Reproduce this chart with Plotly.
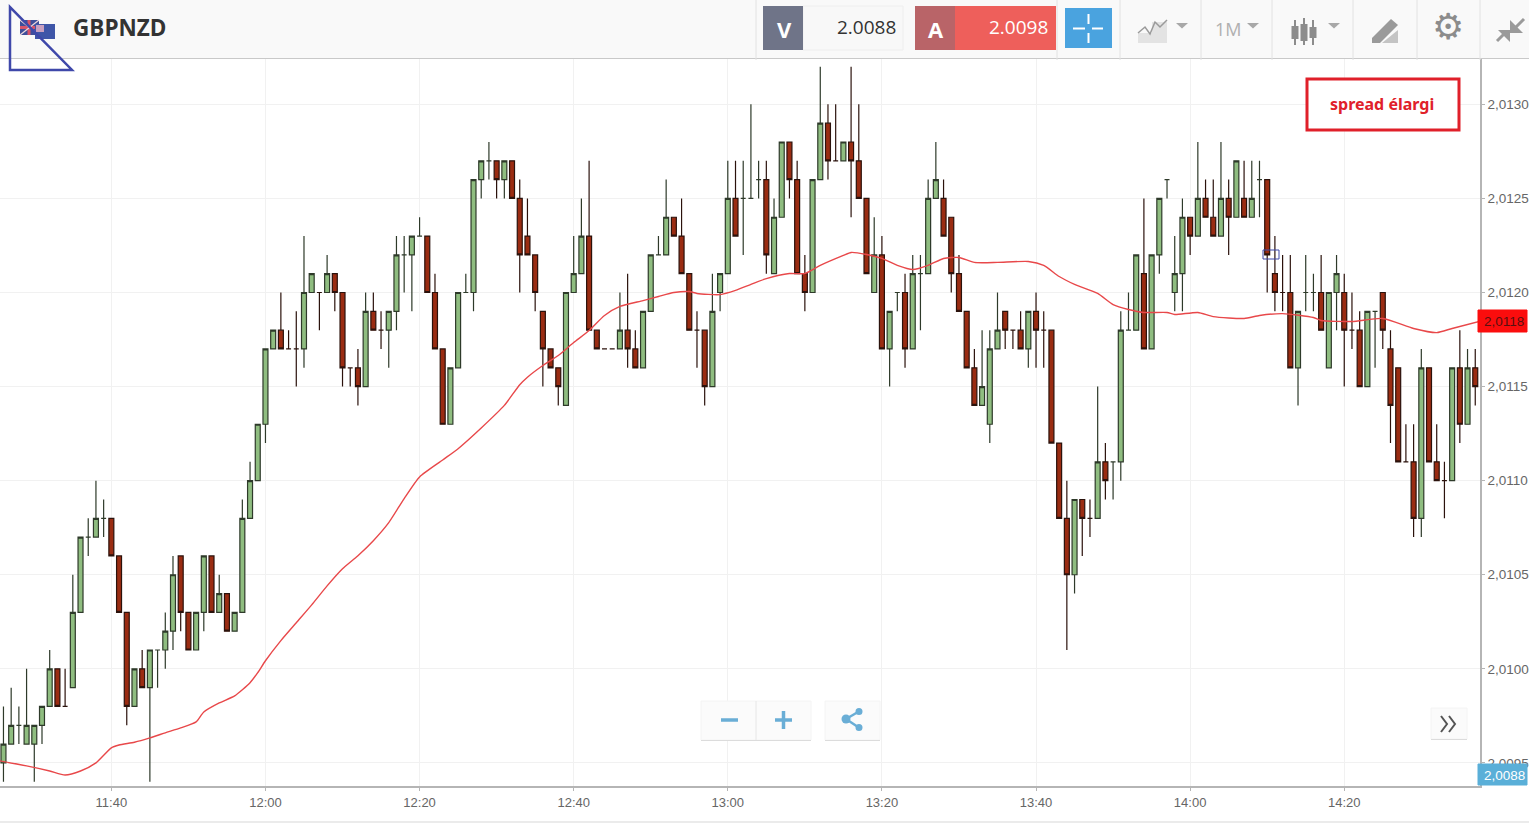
import pandas as pd
import plotly.graph_objects as go

# Prices are written as pips above 2.0000 (e.g. 118 = 2,0118)
open_pips = [95,96,97,96,96,97,98,100,98,99,103,107,107,108,108,106,103,98,100,99,101,101,102,106,103,101,103,106,103,104,102,103,108,110,113,117,118,117,117,117,120,120,120,121,120,116,116,115,119,118,118,119,122,122,123,123,120,117,113,116,120,120,126,127,127,126,127,125,123,122,119,117,116,114,120,121,123,118,117,117,117,118,117,116,119,122,122,124,123,121,118,118,115,120,121,125,125,125,126,126,121,124,128,126,121,120,126,129,127,127,128,127,125,120,122,117,120,120,117,121,121,125,125,124,121,119,116,114,113,117,119,118,118,117,119,118,118,112,108,105,109,108,108,111,111,111,118,118,121,117,122,126,120,121,124,123,125,124,123,125,124,125,124,126,126,121,120,120,116,120,120,120,116,120,120,118,118,115,119,120,117,116,111,111,108,116,111,110,110,116,113,116]
high_pips = [98,99,98,100,97,98,101,100,100,105,107,108,110,109,108,106,103,100,101,101,101,103,106,106,103,103,106,106,105,104,103,109,111,113,117,118,120,118,119,123,121,120,122,121,120,116,117,120,120,119,119,123,123,123,124,123,121,117,116,120,121,126,127,128,127,127,127,126,125,122,119,117,116,120,123,125,127,118,117,117,120,121,118,119,122,123,126,124,125,121,119,118,121,121,127,127,127,130,127,127,125,128,128,127,122,126,132,130,130,128,132,130,125,124,123,119,120,121,122,122,126,128,126,124,122,119,117,118,118,120,119,118,119,119,120,119,118,112,110,109,109,109,115,112,111,119,120,122,125,122,125,126,123,125,124,128,126,126,128,126,127,127,127,127,126,123,122,122,119,122,121,122,120,122,121,120,119,119,119,120,118,116,113,113,117,116,113,111,116,118,117,117]
low_pips = [94,96,96,96,94,96,98,98,98,99,103,106,107,107,106,103,97,98,99,94,99,100,101,102,101,101,102,103,103,102,102,103,108,110,112,117,117,117,115,116,120,118,120,119,115,115,114,115,118,117,116,118,120,119,123,120,117,113,113,116,120,119,125,126,125,125,125,120,122,119,115,116,114,114,120,121,118,117,117,117,117,116,116,116,119,122,122,123,121,118,116,114,115,119,121,123,122,125,125,121,121,124,125,121,119,120,126,126,127,127,124,125,121,120,117,115,119,116,117,118,121,125,123,120,119,116,114,114,112,117,117,117,117,116,116,116,112,108,101,104,106,107,108,109,109,110,118,118,117,117,121,125,119,119,122,123,124,123,123,122,124,124,124,124,120,119,119,116,114,119,119,118,116,118,115,117,115,115,116,117,112,111,111,107,107,111,110,108,110,112,113,114]
close_pips = [96,97,97,97,97,98,100,98,98,103,107,107,108,108,106,103,98,100,99,101,101,102,105,103,101,103,106,103,104,102,103,108,110,113,117,118,117,117,117,120,121,120,121,120,116,116,115,119,118,118,119,122,122,123,123,120,117,113,116,120,120,126,127,127,126,127,125,122,122,120,117,116,115,120,121,123,118,117,117,117,118,117,116,119,122,122,124,123,121,118,118,115,119,121,125,123,125,125,126,122,124,128,126,121,120,126,129,127,127,128,127,125,121,122,117,119,120,117,121,121,125,126,123,121,119,116,114,115,117,118,118,118,117,119,118,118,112,108,105,109,108,108,111,110,111,118,118,122,117,122,125,126,121,124,123,125,124,123,125,124,127,124,125,126,122,120,120,116,119,120,120,118,120,121,118,118,115,119,119,118,114,111,111,108,116,111,110,110,116,113,116,115]

ma_times = ["11:25","11:29","11:32","11:34","11:36","11:38","11:40","11:41","11:43","11:45","11:47","11:49","11:51","11:52","11:54","11:56","11:58","11:59","12:00","12:02","12:04","12:06","12:08","12:10","12:12","12:14","12:16","12:18","12:20","12:23","12:25","12:28","12:31","12:33","12:34","12:36","12:38","12:40","12:42","12:44","12:46","12:49","12:51","12:53","12:55","12:56","12:59","13:01","13:03","13:05","13:08","13:10","13:12","13:15","13:16","13:18","13:20","13:22","13:24","13:26","13:28","13:30","13:32","13:35","13:39","13:41","13:43","13:45","13:48","13:50","13:52","13:54","13:57","13:58","14:01","14:03","14:07","14:09","14:12","14:16","14:17","14:21","14:25","14:29","14:32","14:34","14:38"]
ma_pips = [95.15,94.84,94.57,94.36,94.57,95.0,95.8,95.95,96.1,96.33,96.6,96.86,97.18,97.71,98.19,98.56,99.26,99.8,100.43,101.5,102.45,103.4,104.41,105.32,106.01,106.81,107.77,109.05,110.2,111.1,111.7,112.8,114.0,115.1,115.5,116.12,116.65,117.34,117.98,118.78,119.26,119.57,119.79,120.0,120.05,119.95,119.89,120.11,120.43,120.74,121.01,121.01,121.44,121.97,122.13,122.02,121.81,121.44,121.22,121.44,121.81,121.86,121.6,121.6,121.65,121.44,120.85,120.43,119.95,119.36,119.1,118.94,118.94,118.83,118.94,118.72,118.62,118.78,118.88,118.67,118.51,118.46,118.62,118.09,117.87,118.09,118.51]

DAY = "2019-01-07 "
times = pd.date_range(DAY + "11:26", periods=len(open_pips), freq="min")
px = lambda arr: [2 + v / 10000 for v in arr]

W, H = 1529, 823
X = lambda p: p / W
Y = lambda p: 1 - p / H

fig = go.Figure()
fig.add_trace(go.Candlestick(
    x=times, open=px(open_pips), high=px(high_pips), low=px(low_pips), close=px(close_pips),
    whiskerwidth=0,
    increasing=dict(fillcolor="#8fbd80", line=dict(color="#2e3a2a", width=1.2)),
    decreasing=dict(fillcolor="#9a2c12", line=dict(color="#2b120c", width=1.2)),
    hoverinfo="skip", showlegend=False,
))
fig.add_trace(go.Scatter(
    x=[DAY + t for t in ma_times], y=px(ma_pips), mode="lines",
    line=dict(color="#e8484a", width=1.4, shape="spline", smoothing=0.6),
    hoverinfo="skip", showlegend=False,
))

shapes, notes = [], []

def rect(x0, y0, x1, y1, fill, line=None, lw=0, layer="above"):
    shapes.append(dict(type="rect", xref="paper", yref="paper", x0=X(x0), x1=X(x1), y0=Y(y0), y1=Y(y1),
                       fillcolor=fill, line=dict(color=line or fill, width=lw), layer=layer))

def poly(points, fill=None, line=None, lw=0, close=True):
    d = "M " + " L ".join(f"{X(a):.5f},{Y(b):.5f}" for a, b in points) + (" Z" if close else "")
    shapes.append(dict(type="path", xref="paper", yref="paper", path=d, fillcolor=fill or "rgba(0,0,0,0)",
                       line=dict(color=line or "rgba(0,0,0,0)", width=lw), layer="above"))

def seg(x0, y0, x1, y1, color, lw=1):
    shapes.append(dict(type="line", xref="paper", yref="paper", x0=X(x0), x1=X(x1), y0=Y(y0), y1=Y(y1),
                       line=dict(color=color, width=lw), layer="above"))

def circ(cx, cy, r, fill):
    shapes.append(dict(type="circle", xref="paper", yref="paper", x0=X(cx - r), x1=X(cx + r), y0=Y(cy + r), y1=Y(cy - r),
                       fillcolor=fill, line=dict(width=0), layer="above"))

def text(x, y, s, size, color, anchor="center", bold=False, font="Open Sans"):
    notes.append(dict(xref="paper", yref="paper", x=X(x), y=Y(y), text=f"<b>{s}</b>" if bold else s, showarrow=False,
                      xanchor=anchor, yanchor="middle", font=dict(size=size, color=color, family=font)))

def caret(cx, cy=25.5, half=6):
    poly([(cx - half, cy - 2.5), (cx + half, cy - 2.5), (cx, cy + 3)], fill="#a8a8a8")

# header band
rect(0, 0, W, 58.5, "#f9f9f9")
seg(0, 58.5, W, 58.5, "#c9c9c9", 1.2)
for sx in [756, 1057, 1120, 1201, 1272, 1353, 1417, 1480]:
    seg(sx, 0, sx, 60, "#e2e2e2", 1)

# flags + symbol
rect(20, 20, 39, 35, "#3f4f9a")
seg(20, 27.5, 39, 27.5, "#d9546a", 3)
seg(29, 20, 29, 35, "#d9546a", 3)
seg(20, 20, 39, 35, "#f0d8dc", 1.2)
seg(20, 35, 39, 20, "#f0d8dc", 1.2)
rect(35, 24, 55, 39, "#3f56a8")
rect(36, 25, 44, 32, "#c9a0c0")
poly([(10, 7), (10, 70), (72, 70)], line="#3f48aa", lw=2.5)
text(70.5, 28, "GBPNZD", 22.5, "#333333", "left", True)

# sell / buy boxes
rect(803, 6, 903, 50, "#f8f8f8", "#eeeeee", 1)
rect(763, 6, 803, 50, "#6f7488")
text(784, 29, "V", 22, "white", bold=True)
text(898, 27, "2.0088", 19, "#333333", "right")
rect(955, 6, 1056, 50, "#ee5f5b")
rect(915, 6, 955, 50, "#b96468")
text(936, 29, "A", 22, "white", bold=True)
text(1050, 27, "2.0098", 19, "white", "right")
rect(1065, 8, 1112, 48, "#4aa3df")
seg(1073, 28.5, 1085, 28.5, "white", 2)
seg(1092, 28.5, 1103, 28.5, "white", 2)
seg(1088.5, 14, 1088.5, 24, "white", 2)
seg(1088.5, 33, 1088.5, 43, "white", 2)

# toolbar icons
rect(1138, 33, 1152, 43, "#e3e3e3")
rect(1152, 22, 1167, 43, "#e3e3e3")
poly([(1138, 33), (1145, 27), (1150, 34), (1155, 22), (1160, 27), (1167, 20)], line="#9a9a9a", lw=1.5, close=False)
caret(1182)
text(1228, 29, "1M", 18, "#b0b0b0")
caret(1253)
for cx, y0, y1, b0, b1 in [(1295, 20, 45, 26, 39), (1304, 18, 45, 24, 41), (1313, 20, 45, 27, 38)]:
    seg(cx, y0, cx, y1, "#8c8c8c", 2)
    rect(cx - 3.5, b0, cx + 3.5, b1, "#8c8c8c")
caret(1334)
poly([(1372, 38), (1391, 19), (1398, 25), (1380, 43), (1372, 43)], fill="#9a9a9a")
poly([(1382, 43), (1398, 30), (1398, 43)], fill="#c4c4c4")
text(1448, 27, "⚙", 36, "#8c8c8c", font="DejaVu Sans")
poly([(1524, 19), (1512, 31)], line="#9a9a9a", lw=3, close=False)
poly([(1510, 20), (1510, 33), (1523, 33)], fill="#9a9a9a")
poly([(1497, 41), (1507, 31)], line="#9a9a9a", lw=3, close=False)
poly([(1498, 30), (1510, 30), (1510, 42)], fill="#9a9a9a")

# annotation box and markers on the chart
rect(1307, 79, 1459, 130, "white", "#e0202a", 3)
text(1382, 104, "spread élargi", 16, "#e0202a", bold=True, font="Noto Sans")
rect(1263, 250, 1279, 259, "rgba(0,0,0,0)", "#3f48aa", 1)

# zoom / share / next buttons
rect(701, 701, 811, 740, "#fbfbfb", "#f4f4f4", 1)
seg(701, 740.5, 811, 740.5, "#dcdcdc", 1.2)
seg(756, 701, 756, 740, "#e6e6e6", 1)
seg(721, 720, 738, 720, "#6aaed6", 3.5)
seg(775, 720, 792, 720, "#6aaed6", 3.5)
seg(783.5, 711, 783.5, 729, "#6aaed6", 3.5)
rect(825, 701, 880, 740, "#fbfbfb", "#f4f4f4", 1)
seg(825, 740.5, 880, 740.5, "#dcdcdc", 1.2)
seg(846, 719, 858, 712, "#6aaed6", 2.5)
seg(846, 719, 858, 727, "#6aaed6", 2.5)
circ(846, 719, 4.5, "#6aaed6")
circ(859, 711.5, 3.5, "#6aaed6")
circ(859, 727.5, 3.5, "#6aaed6")
rect(1431, 708, 1467, 739, "#fbfbfb", "#f4f4f4", 1)
seg(1431, 739.5, 1467, 739.5, "#dcdcdc", 1.2)
poly([(1441, 716), (1447, 724), (1441, 732)], line="#555555", lw=2, close=False)
poly([(1449, 716), (1455, 724), (1449, 732)], line="#555555", lw=2, close=False)

# price tags on the axis
rect(1478, 310, 1527, 332, "#fb0d0d", "#fb0d0d", 1)
text(1504, 321, "2,0118", 13.5, "#5a1010", font="Liberation Sans")
rect(1478, 764, 1527, 785, "#5aafd8", "#5aafd8", 1)
text(1504, 775, "2,0088", 13.5, "white", font="Liberation Sans")
seg(0, 822, W, 822, "#e4e4e4", 1.5)

fig.update_layout(
    width=W, height=H, margin=dict(l=0, r=0, t=0, b=0, pad=0), autosize=False,
    paper_bgcolor="white", plot_bgcolor="white", separators=",.", showlegend=False,
    shapes=shapes, annotations=notes, hovermode=False, boxgap=0.08,
    font=dict(family="Liberation Sans", size=13, color="#666666"),
    xaxis=dict(
        domain=[0, 1480 / W], type="date", range=[DAY + "11:25:33", DAY + "14:37:37"],
        rangeslider=dict(visible=False), tick0=DAY + "11:40", dtick=1200000, tickformat="%H:%M",
        showgrid=True, gridcolor="#f1f1f1", gridwidth=1, zeroline=False,
        showline=True, linecolor="#b5b5b5", linewidth=1.5,
        ticks="outside", ticklen=4, tickcolor="#b5b5b5", tickfont=dict(size=13, color="#666666"),
    ),
    yaxis=dict(
        domain=[1 - 785.5 / H, 1 - 59 / H], side="right", anchor="x",
        range=[2 + 93.8 / 10000, 2 + 132.41 / 10000], tick0=2.0095, dtick=0.0005, tickformat=".4f",
        showgrid=True, gridcolor="#f1f1f1", gridwidth=1, zeroline=False,
        showline=True, linecolor="#b5b5b5", linewidth=1.5,
        ticks="outside", ticklen=3, tickcolor="#b5b5b5", tickfont=dict(size=13.5, color="#666666"),
    ),
)

fig.write_html("out.html", config={"displayModeBar": False},
               post_script="document.body.style.margin='0';document.body.style.overflow='hidden';")
